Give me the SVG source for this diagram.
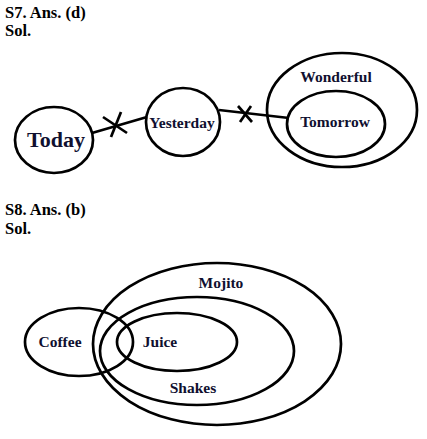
<svg xmlns="http://www.w3.org/2000/svg" width="427" height="439" viewBox="0 0 427 439">
<style>
.h{font-family:"Liberation Serif","DejaVu Serif",serif;font-weight:bold;font-size:16.5px;fill:#000}
.s{fill:none;stroke:#000;stroke-width:2.7}
.t{font-family:"Liberation Serif","DejaVu Serif",serif;font-weight:bold;font-size:15.5px;fill:#101030;text-anchor:middle}
</style>
<rect width="427" height="439" fill="#fff"/>
<text class="h" x="5" y="18">S7. Ans. (d)</text>
<text class="h" x="5" y="36">Sol.</text>
<g id="connectors">
<line class="s" x1="92" y1="133" x2="147" y2="117"/>
<line class="s" x1="103" y1="117" x2="127" y2="133"/>
<line class="s" x1="111" y1="137" x2="121" y2="112"/>
<line class="s" x1="219" y1="110" x2="289" y2="118"/>
<line class="s" x1="238" y1="106" x2="252" y2="122"/>
<line class="s" x1="240" y1="122" x2="251" y2="106"/>
</g>
<g id="today"><ellipse class="s" cx="54" cy="140" rx="39" ry="33"/><text class="t" x="56" y="147" style="font-size:22px">Today</text></g>
<g id="yesterday"><ellipse class="s" cx="183" cy="122" rx="37" ry="34"/><text class="t" x="182" y="128">Yesterday</text></g>
<g id="wonderful"><ellipse class="s" cx="342" cy="110" rx="75" ry="57"/><text class="t" x="336" y="82">Wonderful</text></g>
<g id="tomorrow"><ellipse class="s" cx="336" cy="124" rx="49" ry="33"/><text class="t" x="335" y="127">Tomorrow</text></g>
<text class="h" x="5" y="215">S8. Ans. (b)</text>
<text class="h" x="5" y="234">Sol.</text>
<g id="mojito"><ellipse class="s" cx="217" cy="344" rx="124" ry="81"/><text class="t" x="221" y="288">Mojito</text></g>
<g id="shakes"><ellipse class="s" cx="197" cy="351" rx="97" ry="54"/><text class="t" x="193" y="393">Shakes</text></g>
<g id="juice"><ellipse class="s" cx="177" cy="342" rx="60" ry="29"/><text class="t" x="160" y="347">Juice</text></g>
<g id="coffee"><ellipse class="s" cx="79" cy="342" rx="54" ry="34"/><text class="t" x="60" y="347">Coffee</text></g>
</svg>
